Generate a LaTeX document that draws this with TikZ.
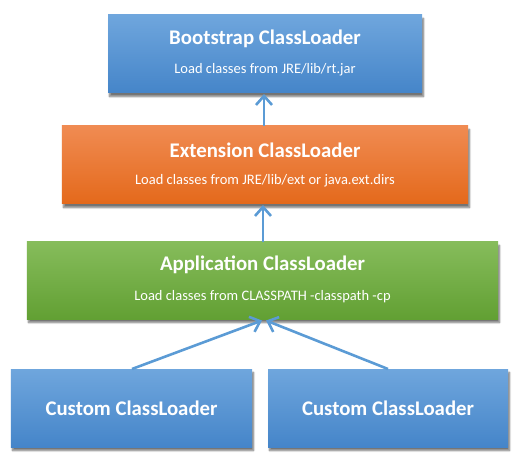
\documentclass[tikz,border=0pt]{standalone}
\usepackage{fontspec}
\setmainfont{Carlito}
\usetikzlibrary{arrows.meta,shadows.blur}
\definecolor{bluetop}{HTML}{6FA6DD}
\definecolor{bluebot}{HTML}{4585C9}
\definecolor{oratop}{HTML}{F08B52}
\definecolor{orabot}{HTML}{E4691B}
\definecolor{grntop}{HTML}{86BC5B}
\definecolor{grnbot}{HTML}{62A033}
\definecolor{arrowblue}{HTML}{5B9BD5}
\tikzset{
  box/.style={draw=none, inner sep=0pt, blur shadow={shadow xshift=1.5bp, shadow yshift=-3.5bp, shadow blur steps=5, shadow opacity=55}},
  bluebox/.style={box, top color=bluetop, bottom color=bluebot},
  orabox/.style={box, top color=oratop, bottom color=orabot},
  grnbox/.style={box, top color=grntop, bottom color=grnbot},
  title/.style={text=white, font=\fontsize{20.8bp}{24bp}\selectfont\bfseries},
  sub/.style={text=white, font=\fontsize{14.5bp}{17bp}\selectfont},
  link/.style={draw=arrowblue, line width=2.6bp, -{Straight Barb[length=9bp,width=16bp,line width=2.6bp]}}
}
\begin{document}
\begin{tikzpicture}[x=1bp,y=-1bp]
\useasboundingbox (0,0) rectangle (528,459);
% boxes
\node[bluebox, minimum width=314bp, minimum height=78bp] (boot) at (265,54) {};
\node[orabox, minimum width=406bp, minimum height=78bp] (ext) at (265,165) {};
\node[grnbox, minimum width=471bp, minimum height=77bp] (app) at (262.5,280.5) {};
\node[bluebox, minimum width=241bp, minimum height=78bp] (c1) at (131.5,408) {};
\node[bluebox, minimum width=240bp, minimum height=78bp] (c2) at (388,408) {};
% texts
\node[title] (boott) at (265,39) {Bootstrap ClassLoader};
\node[sub] (boots) at (265,70) {Load classes from JRE/lib/rt.jar};
\node[title] (extt) at (265,150) {Extension ClassLoader};
\node[sub] (exts) at (265,181) {Load classes from JRE/lib/ext or java.ext.dirs};
\node[title] (appt) at (262.5,265) {Application ClassLoader};
\node[sub] (apps) at (262.5,297) {Load classes from CLASSPATH -classpath -cp};
\node[title] (c1t) at (131.5,408) {Custom ClassLoader};
\node[title] (c2t) at (388,408) {Custom ClassLoader};
% arrows
\coordinate (bootin) at (264,94);
\coordinate (extout) at (264,126);
\coordinate (extin) at (263,205);
\coordinate (appout) at (263,242);
\coordinate (appin1) at (262,320.5);
\coordinate (appin2) at (266,320.5);
\coordinate (c1out) at (132,369);
\coordinate (c2out) at (388,369);
\draw[link] (extout) -- (bootin);
\draw[link] (appout) -- (extin);
\draw[link] (c1out) -- (appin1);
\draw[link] (c2out) -- (appin2);
\end{tikzpicture}
\end{document}
